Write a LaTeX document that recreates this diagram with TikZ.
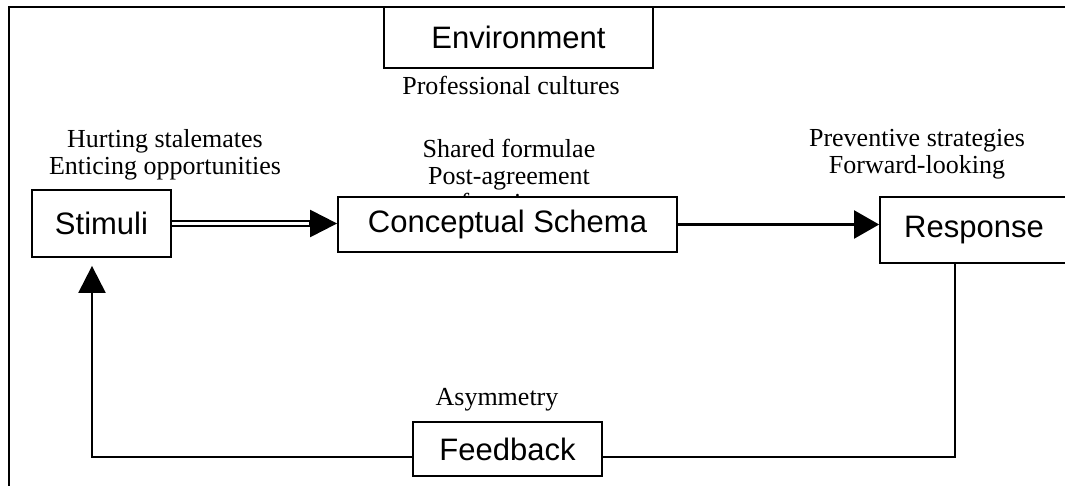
\documentclass[tikz,border=0pt]{standalone}
\usepackage{fontspec}
\setmainfont{Liberation Serif}
\newfontfamily\arialfont{Liberation Sans}
\usetikzlibrary{arrows.meta}
\begin{document}
\begin{tikzpicture}[x=1pt,y=-1pt,
  box/.style={draw, line width=1.8pt, fill=white, inner sep=0pt,
    font=\arialfont\fontsize{31}{36}\selectfont},
  lbl/.style={inner sep=0pt, align=center, font=\fontsize{26}{27}\selectfont},
  conn/.style={line width=2.2pt},
  tipA/.style={-{Triangle[length=27pt,width=27pt]}},
  tipB/.style={-{Triangle[length=25pt,width=28pt]}},
  dbl/.style={double, line width=1.6pt, double distance=3pt}]
\useasboundingbox (0,0) rectangle (1065,486);
% frame (top and left edges only)
\draw[line width=2.6pt] (9,500) -- (9,7) -- (1080,7);
% labels
\node[lbl] (prof) at (511,85) {Professional cultures};
\node[lbl] (hurt) at (165,155) {Hurting stalemates\\Enticing opportunities};
\node[lbl] (shared) at (509,175) {Shared formulae\\Post-agreement\\functions};
\node[lbl] (prev) at (917,154) {Preventive strategies\\Forward-looking};
\node[lbl] (asym) at (497,400) {Asymmetry};
% boxes
\node[box, minimum width=269pt, minimum height=61pt] (env) at (518.5,37.5) {Environment};
\node[box, minimum width=139pt, minimum height=67pt] (stim) at (101.5,223.5) {Stimuli};
\node[box, minimum width=339pt, minimum height=55pt] (concept) at (507.5,224.5) {Conceptual Schema};
\node[box, minimum width=188pt, minimum height=66pt] (resp) at (974,230) {Response};
\node[box, minimum width=189pt, minimum height=54pt] (fb) at (507.5,449) {Feedback};
% connectors
\draw[dbl, shorten >=20pt] (stim.east) -- (stim.east -| concept.west);
\draw[conn, tipA] ([xshift=-28pt]stim.east -| concept.west) -- (stim.east -| concept.west);
\draw[conn, tipB] (concept.east) -- (concept.east -| resp.west);
\coordinate (rc) at (955,457);
\coordinate (lc) at (92,457);
\draw[conn] (rc |- resp.south) -- (rc) -- (rc -| fb.east);
\draw[conn, tipA, shorten >=8pt] (lc -| fb.west) -- (lc) -- (lc |- stim.south);
\end{tikzpicture}
\end{document}
